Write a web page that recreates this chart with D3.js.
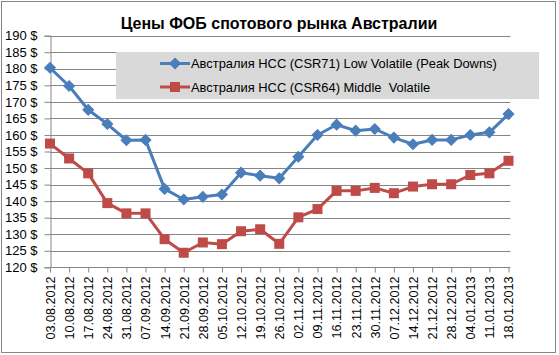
<!DOCTYPE html>
<html>
<head>
<meta charset="utf-8">
<script src="https://cdn.jsdelivr.net/npm/d3@7"></script>
<style>
html,body{margin:0;padding:0;background:#fff;}
svg{display:block;}
text{font-family:"Liberation Sans",Arial,sans-serif;}
</style>
</head>
<body>
<svg id="chart" width="559" height="355"></svg>
<script>
const title = "Цены ФОБ спотового рынка Австралии";
const categories = ["03.08.2012","10.08.2012","17.08.2012","24.08.2012","31.08.2012","07.09.2012","14.09.2012","21.09.2012","28.09.2012","05.10.2012","12.10.2012","19.10.2012","26.10.2012","02.11.2012","09.11.2012","16.11.2012","23.11.2012","30.11.2012","07.12.2012","14.12.2012","21.12.2012","28.12.2012","04.01.2013","11.01.2013","18.01.2013"];
const seriesNames = ["Австралия HCC (CSR71) Low Volatile (Peak Downs)", "Австралия HCC (CSR64) Middle  Volatile"];
const lowVolatile = [180.3,174.8,167.6,163.3,158.4,158.5,143.7,140.5,141.3,142.0,148.6,147.7,146.9,153.4,160.0,163.1,161.3,161.8,159.2,157.2,158.5,158.5,160.0,160.8,166.3];
const middleVolatile = [157.4,152.9,148.4,139.4,136.3,136.3,128.5,124.4,127.5,127.0,130.9,131.5,127.1,135.1,137.6,143.1,143.1,144.0,142.4,144.4,145.1,145.1,147.9,148.4,152.2];
const yTicks = [120,125,130,135,140,145,150,155,160,165,170,175,180,185,190];

const svg = d3.select("#chart");
const pL = 50, pR = 508.5, pT = 35.7, pB = 267.3;
const x = d3.scalePoint().domain(categories).range([pL, pR]).padding(0);
const y = d3.scaleLinear().domain([120,190]).range([pB, pT]);

// outer border
svg.append("rect").attr("x",1.5).attr("y",1.5).attr("width",554).attr("height",351)
  .attr("fill","#fff").attr("stroke","#868686").attr("stroke-width",1);

// gridlines
svg.append("g").selectAll("line").data(yTicks.filter(d=>d>120)).join("line")
  .attr("x1",pL).attr("x2",510.5)
  .attr("y1",d=>Math.round(y(d))+0.5).attr("y2",d=>Math.round(y(d))+0.5)
  .attr("stroke","#868686").attr("stroke-width",1);

// y axis
const yAxis = d3.axisLeft(y).tickValues(yTicks).tickSize(6).tickPadding(7).tickFormat(d=>d+" $");
const gy = svg.append("g").attr("transform",`translate(${pL+0.5},0)`).call(yAxis);
gy.select(".domain").attr("stroke","#868686");
gy.selectAll(".tick line").attr("stroke","#868686");
gy.selectAll(".tick text").attr("font-size",13).attr("fill","#000").attr("font-family","Liberation Sans, Arial, sans-serif");

// x axis
const xAxis = d3.axisBottom(x).tickSize(5).tickPadding(4);
const gx = svg.append("g").attr("transform",`translate(0,${Math.round(pB)+0.5})`).call(xAxis);
gx.select(".domain").attr("stroke","#868686").attr("d",`M${pL},0H510.5`);
gx.selectAll(".tick line").attr("stroke","#868686");
gx.selectAll(".tick text").attr("font-size",12.6).attr("fill","#000")
  .attr("font-family","Liberation Sans, Arial, sans-serif")
  .attr("transform","rotate(-90)").attr("text-anchor","end")
  .attr("x",-9).attr("y",0).attr("dy","0.35em");

// legend box
svg.append("rect").attr("x",116).attr("y",52).attr("width",423).attr("height",47).attr("fill","#d9d9d9");

const colors = ["#4a7ebb","#be4b48"];
const line = d3.line().x((d,i)=>x(categories[i])).y(d=>y(d));

function drawMarker(g, type, cx, cy, color){
  if(type===0){
    g.append("path").attr("transform",`translate(${cx},${cy}) rotate(45)`)
      .attr("d","M-3.8,-3.8H3.8V3.8H-3.8Z").attr("fill",color).attr("stroke",color).attr("stroke-width",1);
  } else {
    g.append("rect").attr("x",cx-5).attr("y",cy-5).attr("width",10).attr("height",10).attr("fill",color);
  }
}

[lowVolatile, middleVolatile].forEach((data, k)=>{
  const g = svg.append("g");
  g.append("path").datum(data).attr("d",line).attr("fill","none")
    .attr("stroke",colors[k]).attr("stroke-width",3).attr("stroke-linejoin","round");
  data.forEach((v,i)=>drawMarker(g,k,x(categories[i]),y(v),colors[k]));
});

// legend entries
const legY = [63.5, 87];
seriesNames.forEach((name,k)=>{
  const g = svg.append("g");
  g.append("line").attr("x1",160).attr("x2",190).attr("y1",legY[k]).attr("y2",legY[k])
    .attr("stroke",colors[k]).attr("stroke-width",3);
  drawMarker(g,k,175,legY[k],colors[k]);
  g.append("text").attr("x",191).attr("y",legY[k]).attr("dy","0.35em")
    .style("white-space","pre")
    .attr("font-size",12.9).attr("fill","#000").text(name);
});

// title
svg.append("text").attr("x",279).attr("y",29).attr("text-anchor","middle")
  .attr("font-size",16).attr("font-weight","bold").attr("fill","#000").text(title);
</script>
</body>
</html>
